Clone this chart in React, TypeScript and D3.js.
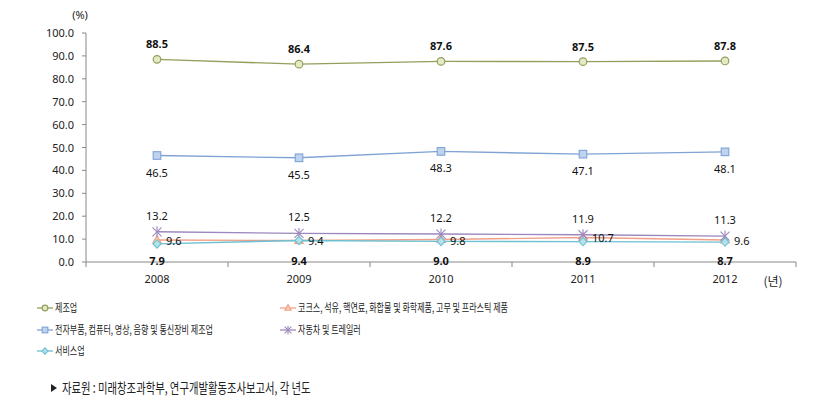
import React from 'react';
import * as d3 from 'd3';

const years = ['2008', '2009', '2010', '2011', '2012'];
const yTicks = [0, 10, 20, 30, 40, 50, 60, 70, 80, 90, 100];

const manufacturing = [88.5, 86.4, 87.6, 87.5, 87.8];
const electronics = [46.5, 45.5, 48.3, 47.1, 48.1];
const coke = [9.6, 9.4, 9.8, 10.7, 9.6];
const automobile = [13.2, 12.5, 12.2, 11.9, 11.3];
const services = [7.9, 9.4, 9.0, 8.9, 8.7];

const seriesNames = [
  '제조업',
  '코크스, 석유, 핵연료, 화합물 및 화학제품, 고무 및 프라스틱 제품',
  '전자부품, 컴퓨터, 영상, 음향 및 통신장비 제조업',
  '자동차 및 트레일러',
  '서비스업',
];

const FONT = '"Noto Sans", "Noto Sans CJK KR", sans-serif';
const KFONT = '"Noto Sans CJK KR", sans-serif';

type Marker = 'circle' | 'square' | 'triangle' | 'star' | 'diamond';

interface Series {
  name: string;
  values: number[];
  line: string;
  fill: string;
  marker: Marker;
  labelPos: 'above' | 'below' | 'right';
  bold: boolean;
}

const series: Series[] = [
  { name: seriesNames[0], values: manufacturing, line: '#939f5c', fill: '#e4ebc4', marker: 'circle', labelPos: 'above', bold: true },
  { name: seriesNames[2], values: electronics, line: '#7fa3d4', fill: '#bfd2ee', marker: 'square', labelPos: 'below', bold: false },
  { name: seriesNames[1], values: coke, line: '#f0a08a', fill: '#fbd1a5', marker: 'triangle', labelPos: 'right', bold: false },
  { name: seriesNames[3], values: automobile, line: '#9b87bd', fill: 'none', marker: 'star', labelPos: 'above', bold: false },
  { name: seriesNames[4], values: services, line: '#6cc0d2', fill: '#b5e1ea', marker: 'diamond', labelPos: 'below', bold: true },
];

const MarkerShape: React.FC<{ type: Marker; x: number; y: number; stroke: string; fill: string; k?: number }> = ({ type, x, y, stroke, fill, k = 1 }) => {
  if (type === 'circle') return <circle cx={x} cy={y} r={3.8 * k} fill={fill} stroke={stroke} strokeWidth={1.2} />;
  if (type === 'square') return <rect x={x - 3.8 * k} y={y - 3.8 * k} width={7.6 * k} height={7.6 * k} fill={fill} stroke={stroke} strokeWidth={1.1} />;
  if (type === 'triangle')
    return <path d={`M${x},${y - 4.5 * k}L${x + 4.2 * k},${y + 3 * k}L${x - 4.2 * k},${y + 3 * k}Z`} fill={fill} stroke={stroke} strokeWidth={1.1} />;
  if (type === 'diamond')
    return <path d={`M${x},${y - 4.2 * k}L${x + 4 * k},${y}L${x},${y + 4.2 * k}L${x - 4 * k},${y}Z`} fill={fill} stroke={stroke} strokeWidth={1.1} />;
  const r = 4.5 * k;
  return (
    <g stroke={stroke} strokeWidth={1.1}>
      <line x1={x - r} y1={y - r} x2={x + r} y2={y + r} />
      <line x1={x - r} y1={y + r} x2={x + r} y2={y - r} />
      <line x1={x} y1={y - r - 1} x2={x} y2={y + r + 1} />
    </g>
  );
};

const App: React.FC = () => {
  const width = 836;
  const height = 406;
  const left = 86;
  const right = 796;
  const top = 33;
  const bottom = 262;

  const x = d3.scaleBand<string>().domain(years).range([left, right]);
  const y = d3.scaleLinear().domain([0, 100]).range([bottom, top]);
  const cx = (yr: string) => (x(yr) as number) + x.bandwidth() / 2;

  const line = (vals: number[]) =>
    d3.line<number>().x((_, i) => cx(years[i])).y(d => y(d))(vals) as string;

  const boundaries = years.map(yr => x(yr) as number).concat([right]);

  const legendItems = [
    { s: series[0], x: 37, y: 308 },
    { s: series[2], x: 280, y: 308 },
    { s: series[1], x: 37, y: 330 },
    { s: series[3], x: 280, y: 330 },
    { s: series[4], x: 37, y: 351 },
  ];

  return (
    <div style={{ position: 'absolute', left: 0, top: 0 }}>
      <svg width={width} height={height} style={{ display: 'block', background: '#fff' }}>
        {/* y axis */}
        <line x1={left} y1={top} x2={left} y2={bottom} stroke="#888" strokeWidth={1} />
        {yTicks.map(t => (
          <g key={t}>
            <line x1={left - 4} x2={left} y1={y(t)} y2={y(t)} stroke="#888" />
            <text x={left - 12} y={y(t) + 4} textAnchor="end" fontFamily={FONT} fontSize={11} fill="#222">
              {t.toFixed(1)}
            </text>
          </g>
        ))}
        <text x={80} y={19} textAnchor="middle" fontFamily={FONT} fontSize={11} fill="#222">(%)</text>

        {/* x axis */}
        <line x1={left} y1={bottom} x2={right} y2={bottom} stroke="#888" strokeWidth={1} />
        {boundaries.map((b, i) => (
          <line key={i} x1={b} x2={b} y1={bottom} y2={bottom + 5} stroke="#888" />
        ))}
        {years.map(yr => (
          <text key={yr} x={cx(yr)} y={283} textAnchor="middle" fontFamily={FONT} fontSize={11} fill="#222">
            {yr}
          </text>
        ))}
        <text x={773} y={286} textAnchor="middle" fontFamily={KFONT} fontSize={12} fill="#222">(년)</text>

        {/* lines */}
        {series.map(s => (
          <path key={s.name} d={line(s.values)} fill="none" stroke={s.line} strokeWidth={1.4} />
        ))}
        {series.map(s =>
          s.values.map((v, i) => (
            <MarkerShape key={s.name + i} type={s.marker} x={cx(years[i])} y={y(v)} stroke={s.line} fill={s.fill} />
          ))
        )}

        {/* labels */}
        {series.map(s =>
          s.values.map((v, i) => {
            const px = cx(years[i]);
            const py = y(v);
            let lx = px;
            let ly = py;
            let anchor: 'middle' | 'start' = 'middle';
            if (s.labelPos === 'above') ly = py - 12;
            else if (s.labelPos === 'below') ly = py + 21;
            else {
              lx = px + 9;
              ly = py + 5;
              anchor = 'start';
            }
            if (s.marker === 'circle') ly = py - 11;
            if (s.marker === 'diamond') ly = 265;
            return (
              <text
                key={s.name + 'l' + i}
                x={lx}
                y={ly}
                textAnchor={anchor}
                fontFamily={FONT}
                fontSize={11}
                fontWeight={s.bold ? 700 : 400}
                fill="#111"
              >
                {v.toFixed(1)}
              </text>
            );
          })
        )}

        {/* legend */}
        {legendItems.map(({ s, x: lx, y: ly }) => (
          <g key={s.name}>
            <line x1={lx} x2={lx + 16} y1={ly} y2={ly} stroke={s.line} strokeWidth={1.3} />
            <MarkerShape type={s.marker} x={lx + 8} y={ly} stroke={s.line} fill={s.fill} k={0.75} />
            <text
              transform={`translate(${lx + 18},${ly + 4}) scale(0.7,1)`}
              fontFamily={KFONT}
              fontSize={11.5}
              fill="#222"
            >
              {s.name}
            </text>
          </g>
        ))}

        {/* source */}
        <path d="M51,384L57,388L51,392Z" fill="#222" />
        <text transform="translate(62,393) scale(0.74,1)" fontFamily={KFONT} fontSize={14} fill="#222">
          자료원 : 미래창조과학부, 연구개발활동조사보고서, 각 년도
        </text>
      </svg>
    </div>
  );
};

export default App;
